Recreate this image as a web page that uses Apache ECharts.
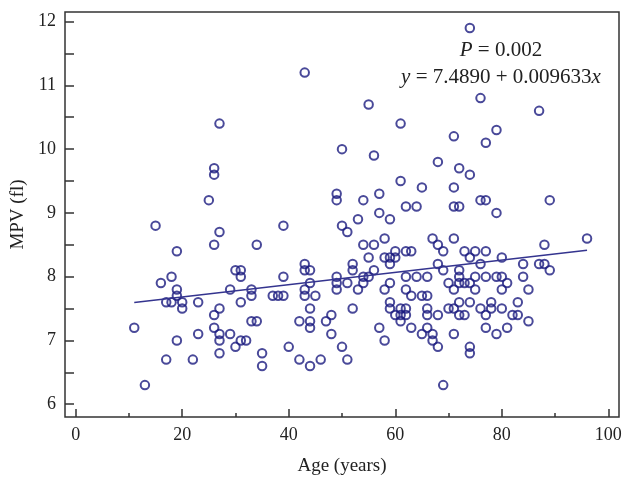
<!DOCTYPE html>
<html>
<head>
<meta charset="utf-8">
<script src="https://cdn.jsdelivr.net/npm/echarts@6/dist/echarts.min.js"></script>
<style>
  html, body { margin: 0; padding: 0; background: #fff; }
  #chart { width: 634px; height: 490px; }
</style>
</head>
<body>
<div id="chart"></div>
<script>
// Age (years) and MPV (fl) for each patient
const ageValues = [
  11, 13, 15, 16, 17, 17, 18, 18, 19, 19, 19, 19, 20, 20, 22, 23, 23, 25,
  26, 26, 26, 26, 26, 27, 27, 27, 27, 27, 27, 29, 29, 30, 30, 31, 31, 31, 31, 32,
  33, 33, 33, 34, 34, 35, 35, 37, 38, 39, 39, 39, 40, 42, 42,
  43, 43, 43, 43, 43, 44, 44, 44, 44, 44, 44, 45, 46, 47, 48, 48,
  49, 49, 49, 49, 49, 50, 50, 50, 51, 51, 51, 52, 52, 52, 53, 53,
  54, 54, 54, 54, 55, 55, 55, 56, 56, 56, 57, 57, 57, 58, 58, 58, 58,
  59, 59, 59, 59, 59, 59, 60, 60, 60, 61, 61, 61, 61, 61,
  62, 62, 62, 62, 62, 62, 63, 63, 63, 64, 64, 65, 65, 65,
  66, 66, 66, 66, 66, 67, 67, 67, 68, 68, 68, 68, 68, 69, 69, 69, 70, 70,
  71, 71, 71, 71, 71, 71, 71, 72, 72, 72, 72, 72, 72, 72, 73, 73, 73,
  74, 74, 74, 74, 74, 74, 74, 75, 75, 75, 76, 76, 76, 76,
  77, 77, 77, 77, 77, 77, 78, 78, 79, 79, 79, 79, 80, 80, 80, 80,
  81, 81, 82, 83, 83, 84, 84, 85, 85, 87, 87, 88, 88, 89, 89, 96
];
const mpvValues = [
  7.2, 6.3, 8.8, 7.9, 6.7, 7.6, 8.0, 7.6, 8.4, 7.8, 7.7, 7.0, 7.6, 7.5, 6.7, 7.6, 7.1, 9.2,
  9.7, 9.6, 8.5, 7.4, 7.2, 10.4, 8.7, 7.5, 7.1, 7.0, 6.8, 7.8, 7.1, 8.1, 6.9, 8.1, 8.0, 7.6, 7.0, 7.0,
  7.8, 7.7, 7.3, 8.5, 7.3, 6.8, 6.6, 7.7, 7.7, 8.8, 8.0, 7.7, 6.9, 7.3, 6.7,
  11.2, 8.2, 8.1, 7.8, 7.7, 8.1, 7.9, 7.5, 7.3, 7.2, 6.6, 7.7, 6.7, 7.3, 7.4, 7.1,
  9.3, 9.2, 8.0, 7.9, 7.8, 10.0, 8.8, 6.9, 8.7, 7.9, 6.7, 8.2, 8.1, 7.5, 8.9, 7.8,
  9.2, 8.5, 8.0, 7.9, 10.7, 8.3, 8.0, 9.9, 8.5, 8.1, 9.3, 9.0, 7.2, 8.6, 8.3, 7.8, 7.0,
  8.9, 8.3, 8.2, 7.9, 7.6, 7.5, 8.4, 8.3, 7.4, 10.4, 9.5, 7.5, 7.4, 7.3,
  9.1, 8.4, 8.0, 7.8, 7.5, 7.4, 8.4, 7.7, 7.2, 9.1, 8.0, 9.4, 7.7, 7.1,
  8.0, 7.7, 7.5, 7.4, 7.2, 8.6, 7.1, 7.0, 9.8, 8.5, 8.2, 7.4, 6.9, 8.4, 8.1, 6.3, 7.9, 7.5,
  10.2, 9.4, 9.1, 8.6, 7.8, 7.5, 7.1, 9.7, 9.1, 8.1, 8.0, 7.9, 7.6, 7.4, 8.4, 7.9, 7.4,
  11.9, 9.6, 8.3, 7.9, 7.6, 6.9, 6.8, 8.4, 8.0, 7.8, 10.8, 9.2, 8.2, 7.5,
  10.1, 9.2, 8.4, 8.0, 7.4, 7.2, 7.6, 7.5, 10.3, 9.0, 8.0, 7.1, 8.3, 8.0, 7.8, 7.5,
  7.9, 7.2, 7.4, 7.6, 7.4, 8.2, 8.0, 7.8, 7.3, 10.6, 8.2, 8.5, 8.2, 9.2, 8.1, 8.6
];

// Fitted regression reported on the chart: y = 7.4890 + 0.009633 x
const fitIntercept = 7.4890;
const fitSlope = 0.009633;
const fitRange = [11, 96];

// Tick positions
const xMajorTicks = [0, 20, 40, 60, 80, 100];
const xMinorTicks = [10, 30, 50, 70, 90];
const yTicks = [6, 6.5, 7, 7.5, 8, 8.5, 9, 9.5, 10, 10.5, 11, 11.5, 12];
const yLabels = [6, 7, 8, 9, 10, 11, 12];

const scatterData = ageValues.map((a, i) => [a, mpvValues[i]]);
const fitData = fitRange.map(x => [x, fitIntercept + fitSlope * x]);

const serif = '"Liberation Serif", "DejaVu Serif", serif';
const axisColor = '#333';
const textColor = '#222';

const chart = echarts.init(document.getElementById('chart'), null, { renderer: 'canvas' });
chart.setOption({
  animation: false,
  backgroundColor: '#fff',
  grid: {
    left: 65, right: 15, top: 12, bottom: 73,
    show: true, borderColor: axisColor, borderWidth: 1.5, backgroundColor: 'transparent'
  },
  xAxis: [
    {
      type: 'value', min: -2, max: 102, position: 'bottom',
      name: 'Age (years)', nameLocation: 'middle', nameGap: 40,
      nameTextStyle: { fontFamily: serif, fontSize: 19, color: textColor },
      axisLine: { show: false, onZero: false },
      axisTick: { show: true, inside: true, length: 8, customValues: xMajorTicks,
                  lineStyle: { color: axisColor, width: 1.5 } },
      axisLabel: { show: true, customValues: xMajorTicks, margin: 9,
                   fontFamily: serif, fontSize: 18, color: textColor },
      splitLine: { show: false }
    },
    {
      type: 'value', min: -2, max: 102, position: 'bottom', offset: 0,
      axisLine: { show: false, onZero: false },
      axisTick: { show: true, inside: true, length: 4, customValues: xMinorTicks,
                  lineStyle: { color: axisColor, width: 1.5 } },
      axisLabel: { show: false },
      splitLine: { show: false }
    }
  ],
  yAxis: [
    {
      type: 'value', min: 5.8, max: 12.15, position: 'left',
      name: 'MPV (fl)', nameLocation: 'middle', nameGap: 29,
      nameTextStyle: { fontFamily: serif, fontSize: 19, color: textColor },
      axisLine: { show: false, onZero: false },
      axisTick: { show: true, inside: true, length: 9, customValues: yTicks,
                  lineStyle: { color: axisColor, width: 1.5 } },
      axisLabel: { show: true, customValues: yLabels, margin: 9,
                   fontFamily: serif, fontSize: 18, color: textColor },
      splitLine: { show: false }
    }
  ],
  series: [
    {
      type: 'scatter', xAxisIndex: 0, yAxisIndex: 0,
      data: scatterData,
      symbol: 'circle', symbolSize: 8.5,
      itemStyle: { color: 'rgba(0,0,0,0)', borderColor: '#1c1c80', borderWidth: 2 },
      silent: true
    },
    {
      type: 'line', xAxisIndex: 0, yAxisIndex: 0,
      data: fitData, symbol: 'none',
      lineStyle: { color: '#34348f', width: 1.4 },
      silent: true
    }
  ],
  graphic: [
    {
      type: 'text',
      style: {
        x: 501, y: 50, align: 'center', verticalAlign: 'middle',
        text: '{i|P} = 0.002',
        font: '21px ' + serif, fill: textColor,
        rich: { i: { fontStyle: 'italic', fontFamily: serif, fontSize: 21, fill: textColor } }
      }
    },
    {
      type: 'text',
      style: {
        x: 501, y: 77, align: 'center', verticalAlign: 'middle',
        text: '{i|y} = 7.4890 + 0.009633{i|x}',
        font: '21px ' + serif, fill: textColor,
        rich: { i: { fontStyle: 'italic', fontFamily: serif, fontSize: 21, fill: textColor } }
      }
    }
  ]
});
</script>
</body>
</html>
